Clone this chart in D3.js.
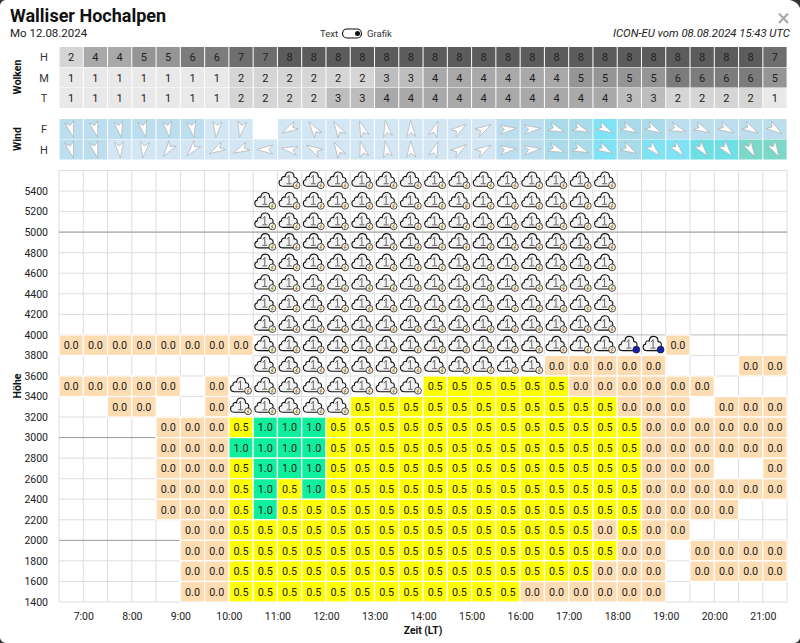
<!DOCTYPE html>
<html>
<head>
<meta charset="utf-8">
<script src="https://cdn.jsdelivr.net/npm/d3@7"></script>
<style>
html, body { margin: 0; padding: 0; background: #fff; }
svg { display: block; font-family: Roboto, sans-serif; }
</style>
</head>
<body>
<svg id="chart" width="800" height="643"></svg>
<script>
// half hour columns, 6:30 .. 21:00
var hourTicks = [7,8,9,10,11,12,13,14,15,16,17,18,19,20,21];
var altTicks = [1400,1600,1800,2000,2200,2400,2600,2800,3000,3200,3400,3600,3800,4000,4200,4400,4600,4800,5000,5200,5400];
var numCols = 30;

var cloudH = [2,4,4,5,5,6,6,7,7,8,8,8,8,8,8,8,8,8,8,8,8,8,8,8,8,8,8,8,8,7];
var cloudM = [1,1,1,1,1,1,1,2,2,2,2,2,2,3,3,4,4,4,4,4,4,5,5,5,5,6,6,6,6,5];
var cloudT = [1,1,1,1,1,1,1,2,2,2,2,3,3,4,4,4,4,4,4,4,4,4,4,3,3,2,2,2,2,1];

// wind direction the arrow points to (deg), null = no data
var windDirF = [165,165,170,168,172,170,185,190,null,240,325,330,340,350,358,20,55,60,85,85,110,112,118,115,118,110,115,118,120,125];
var windDirH = [165,165,175,188,215,220,240,245,270,280,300,330,345,350,358,20,55,60,85,85,110,112,118,118,135,138,140,140,150,150];
var windSpeedF = [15,15,15,15,15,15,10,10,null,10,10,10,10,10,10,10,10,10,15,15,20,20,25,20,20,15,15,15,15,15];
var windSpeedH = [15,15,10,10,10,10,10,10,10,10,10,10,10,10,10,10,10,10,15,15,20,20,25,20,25,25,30,30,35,35];

// rows from 5400 down to 1400: . empty, c cloud, b cloud blue, 0 = 0.0, 5 = 0.5, 1 = 1.0
var climbRows = [
  ".........cccccccccccccc.......",
  "........ccccccccccccccc.......",
  "........ccccccccccccccc.......",
  "........ccccccccccccccc.......",
  "........ccccccccccccccc.......",
  "........ccccccccccccccc.......",
  "........ccccccccccccccc.......",
  "........ccccccccccccccc.......",
  "00000000cccccccccccccccbb0....",
  "........cccccccccccc00000...00",
  "00000.0cccccccc555555000000...",
  "..00..0ccccc55555555555000.000",
  "....00051115555555555555000000",
  "....00011115555555555555000000",
  "....00051115555555555555000..0",
  "....00051515555555555555000000",
  "....000515555555555555550000..",
  ".....005555555555555550500....",
  ".....00555555555555555500.0000",
  ".....00555555555555555000.0000",
  ".....00555555555555000000....."
];

var colW = 24.27;
var svg = d3.select("#chart");

var x = d3.scaleLinear().domain([6.5, 21.5]).range([59, 59 + colW * numCols]);
var y = d3.scaleLinear().domain([1400, 5600]).range([602, 170.5]);
var colX = function(i) { return x(6.5 + i / 2); };
var cw = colX(1) - colX(0);
var rh = y(1400) - y(1600);

var cloudColor = d3.scaleOrdinal()
  .domain([1,2,3,4,5,6,7,8])
  .range(["#e9e9e9","#d5d5d5","#bdbdbd","#a9a9a9","#959595","#7c7c7c","#6e6e6e","#5c5c5c"]);
var windColor = d3.scaleThreshold()
  .domain([12,17,22,27,32])
  .range(["#d3e6f3","#bddeee","#a9dbea","#7fe2f5","#6fdfe6","#7cd9c9"]);
var climbColor = { "0": "#fddcb2", "5": "#ffff00", "1": "#0ff09c" };
var climbText = { "0": "0.0", "5": "0.5", "1": "1.0" };

// icons
var defs = svg.append("defs");
function makeCloud(id, badge, mark) {
  var g = defs.append("g").attr("id", id);
  g.append("path")
    .attr("d", "M-6,6.5 C-11,6.5 -11,0.5 -7.5,0 C-8,-3 -5,-4 -4,-3 C-3.5,-9.5 5,-9.5 5,-2.5 C7.5,-3 9.5,0.5 7.5,2.5 C9.5,3.5 9,6.5 6,6.5 Z")
    .attr("fill", "#f3f3f3").attr("stroke", "#111").attr("stroke-width", 1.1).attr("stroke-linejoin", "round");
  g.append("path").attr("d", "M-2,-2 L0,-4.5 L0,3.5 M-2.5,4 L2.5,4")
    .attr("fill", "none").attr("stroke", "#555").attr("stroke-width", 0.9);
  g.append("circle").attr("cx", 7.5).attr("cy", 5.5).attr("r", 3.4)
    .attr("fill", badge).attr("stroke", "#222").attr("stroke-width", 0.8);
  g.append("path").attr("d", "M8.5,3.5 L6.5,6 L8.3,6 L6.8,7.7")
    .attr("fill", "none").attr("stroke", mark).attr("stroke-width", 1);
}
makeCloud("cloud-c", "#f4f1e6", "#a8842a");
makeCloud("cloud-b", "#1620b0", "#1620b0");

// header
svg.append("text").attr("x", 10).attr("y", 21.5).attr("font-size", 18).attr("font-weight", 700).attr("fill", "#111").text("Walliser Hochalpen");
svg.append("text").attr("x", 10).attr("y", 37).attr("font-size", 11.5).attr("fill", "#222").text("Mo 12.08.2024");
svg.append("text").attr("x", 338).attr("y", 36.5).attr("text-anchor", "end").attr("font-size", 9.5).attr("fill", "#333").text("Text");
svg.append("text").attr("x", 367).attr("y", 36.5).attr("font-size", 9.5).attr("fill", "#333").text("Grafik");
svg.append("rect").attr("x", 342.5).attr("y", 29).attr("width", 19).attr("height", 9).attr("rx", 4.5).attr("fill", "#fff").attr("stroke", "#111").attr("stroke-width", 1.2);
svg.append("circle").attr("cx", 357.5).attr("cy", 33.5).attr("r", 2.5).attr("fill", "#111");
svg.append("text").attr("x", 790).attr("y", 37).attr("text-anchor", "end").attr("font-size", 11.3).attr("font-style", "italic").attr("fill", "#222").text("ICON-EU vom 08.08.2024 15:43 UTC");
svg.append("path").attr("d", "M779,13.5 L788,23 M788,13.5 L779,23").attr("stroke", "#aaa").attr("stroke-width", 2.2);

// Wolken
var cloudRows = [
  { label: "H", values: cloudH, y: 46.5 },
  { label: "M", values: cloudM, y: 67 },
  { label: "T", values: cloudT, y: 87.5 }
];
cloudRows.forEach(function(row) {
  var g = svg.append("g");
  var cell = g.selectAll("g").data(row.values).enter().append("g")
    .attr("transform", function(d, i) { return "translate(" + colX(i) + "," + row.y + ")"; });
  cell.append("rect").attr("x", 0.5).attr("y", 0.5).attr("width", cw - 1).attr("height", 20)
    .attr("fill", function(d) { return cloudColor(d); });
  cell.append("text").attr("x", cw / 2).attr("y", 14.5).attr("text-anchor", "middle")
    .attr("font-size", 11).attr("fill", "#222").text(function(d) { return d; });
  svg.append("text").attr("x", 44).attr("y", row.y + 14.5).attr("text-anchor", "middle")
    .attr("font-size", 11).attr("fill", "#333").text(row.label);
});

// Wind
var windRows = [
  { label: "F", dirs: windDirF, speeds: windSpeedF, y: 118.5 },
  { label: "H", dirs: windDirH, speeds: windSpeedH, y: 139 }
];
windRows.forEach(function(row) {
  var g = svg.append("g");
  var cell = g.selectAll("g").data(row.dirs).enter().append("g")
    .attr("transform", function(d, i) { return "translate(" + colX(i) + "," + row.y + ")"; });
  cell.append("rect").attr("x", 0.5).attr("y", 0.5).attr("width", cw - 1).attr("height", 20)
    .attr("fill", function(d, i) { return row.speeds[i] == null ? "#fff" : windColor(row.speeds[i]); });
  cell.filter(function(d) { return d != null; }).append("path")
    .attr("d", "M0,-8.5 L4.5,7.5 L0,3.5 L-4.5,7.5 Z")
    .attr("transform", function(d) { return "translate(" + cw / 2 + ",10.5) rotate(" + d + ")"; })
    .attr("fill", "#fff").attr("stroke", "#aaa").attr("stroke-width", 0.6);
  svg.append("text").attr("x", 44).attr("y", row.y + 14.5).attr("text-anchor", "middle")
    .attr("font-size", 11).attr("fill", "#333").text(row.label);
});

// side labels
function sideLabel(txt, cy) {
  svg.append("text").attr("transform", "translate(21," + cy + ") rotate(-90)")
    .attr("text-anchor", "middle").attr("font-size", 10.5).attr("font-weight", 700).attr("fill", "#111").text(txt);
}
sideLabel("Wolken", 77);
sideLabel("Wind", 139);
sideLabel("Höhe", 386);

// grid under cells
var grid = svg.append("g");
d3.range(numCols + 1).forEach(function(i) {
  grid.append("line").attr("x1", colX(i)).attr("x2", colX(i)).attr("y1", y(5600)).attr("y2", y(1400))
    .attr("stroke", "#ddd").attr("stroke-width", 1);
});
altTicks.concat([5600]).forEach(function(a) {
  var strong = a % 1000 == 0;
  grid.append("line").attr("x1", x(6.5)).attr("x2", x(21.5)).attr("y1", y(a)).attr("y2", y(a))
    .attr("stroke", a == 5000 || a == 4000 ? "#bbb" : (strong ? "#999" : "#ddd"))
    .attr("stroke-width", a == 5000 ? 1.6 : 1);
});

// climb cells
var cells = [];
climbRows.forEach(function(row, r) {
  row.split("").forEach(function(v, i) {
    if (v != ".") cells.push({ v: v, col: i, alt: 5400 - r * 200 });
  });
});

var numeric = cells.filter(function(d) { return climbColor[d.v]; });
var clouds = cells.filter(function(d) { return d.v == "c" || d.v == "b"; });

svg.append("g").selectAll("rect").data(numeric).enter().append("rect")
  .attr("x", function(d) { return colX(d.col); })
  .attr("y", function(d) { return y(d.alt + 200); })
  .attr("width", cw).attr("height", rh)
  .attr("fill", function(d) { return climbColor[d.v]; })
  .attr("stroke", "#fff").attr("stroke-width", 1.2);

svg.append("g").selectAll("text").data(numeric).enter().append("text")
  .attr("x", function(d) { return colX(d.col) + cw / 2; })
  .attr("y", function(d) { return y(d.alt + 100) + 4; })
  .attr("text-anchor", "middle").attr("font-size", 10.8).attr("fill", "#222")
  .text(function(d) { return climbText[d.v]; });

svg.append("g").selectAll("use").data(clouds).enter().append("use")
  .attr("href", function(d) { return "#cloud-" + d.v; })
  .attr("transform", function(d) { return "translate(" + (colX(d.col) + cw / 2 - 0.5) + "," + (y(d.alt + 100) - 1) + ")"; });

// axes
var xAxis = d3.axisBottom(x).tickValues(hourTicks).tickSize(0).tickPadding(0)
  .tickFormat(function(d) { return d + ":00"; });
var yAxis = d3.axisLeft(y).tickValues(altTicks).tickSize(0).tickPadding(0)
  .tickFormat(d3.format("d"));

var gx = svg.append("g").attr("transform", "translate(0,613)").call(xAxis);
gx.select(".domain").remove();
gx.selectAll("text").attr("font-family", "Roboto").attr("font-size", 10.5).attr("fill", "#222");

var gy = svg.append("g").attr("transform", "translate(48,0)").call(yAxis);
gy.select(".domain").remove();
gy.selectAll("text").attr("font-family", "Roboto").attr("font-size", 10.5).attr("fill", "#222");

svg.append("text").attr("x", x(14)).attr("y", 634).attr("text-anchor", "middle")
  .attr("font-size", 10.3).attr("font-weight", 700).attr("fill", "#111").text("Zeit (LT)");

// modal corners on dark page
["M0,0 H5 Q1,1 0,5 Z", "M800,0 H790 Q798,2 800,8 Z", "M0,643 H5 Q1,642 0,638 Z", "M800,643 H795 Q799,642 800,638 Z"].forEach(function(c) {
  svg.append("path").attr("d", c).attr("fill", "#333");
});
</script>
</body>
</html>
